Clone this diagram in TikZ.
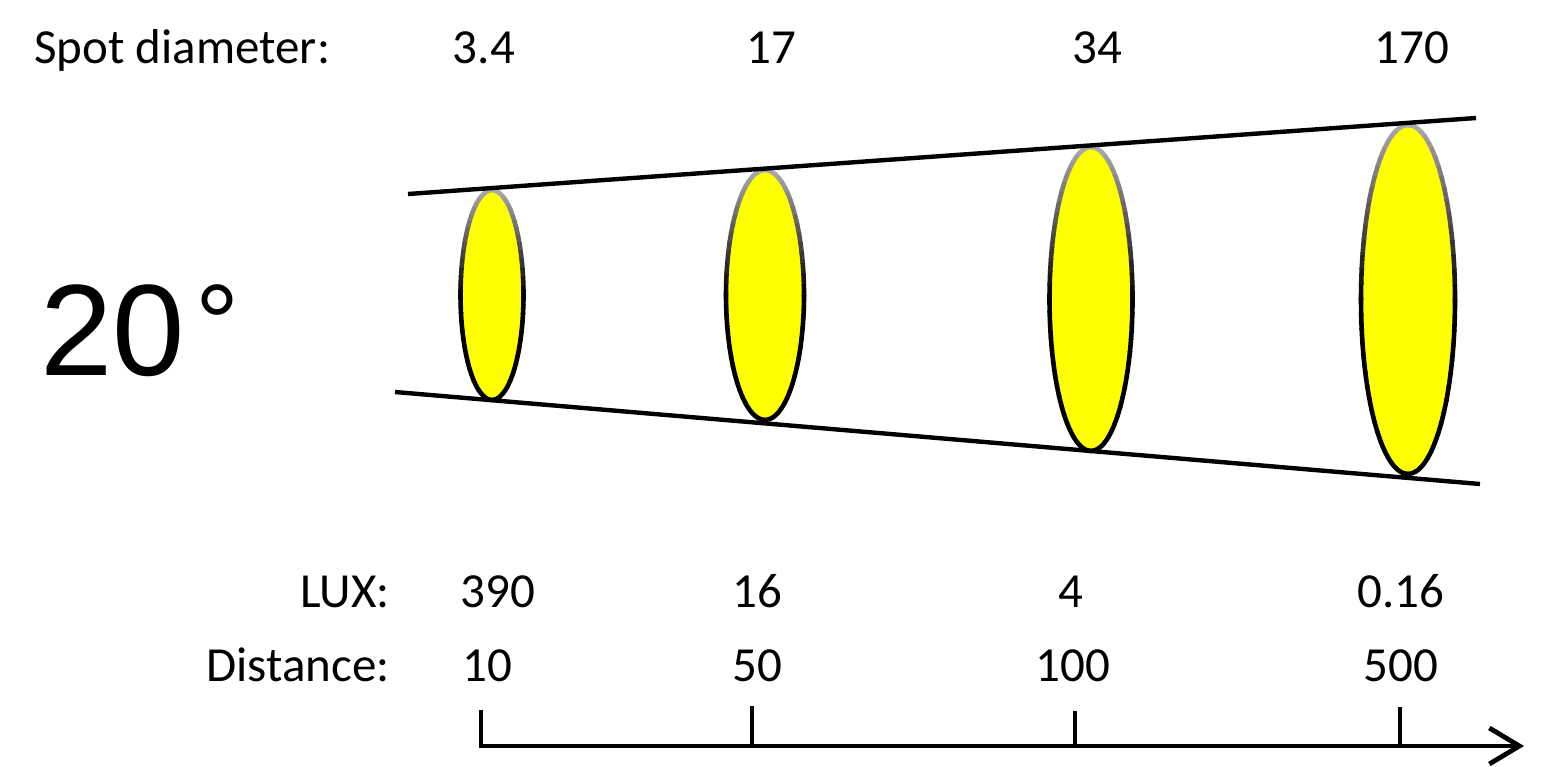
\documentclass[tikz,border=0pt]{standalone}
\usepackage{fontspec}
\setmainfont{Carlito}
\newfontfamily\arialfont{Liberation Sans}
\usetikzlibrary{calc,arrows.meta}
\definecolor{spotyellow}{RGB}{255,255,0}
\begin{document}
\begin{tikzpicture}[x=0.5pt,y=-0.5pt,
  lbl/.style={font=\fontsize{24.5}{30}\selectfont, inner sep=0pt, anchor=base},
  lblr/.style={lbl, anchor=base east},
  lbll/.style={lbl, anchor=base west},
  cone/.style={line width=2.2pt, black},
  axis/.style={line width=2.4pt, black},
]
\useasboundingbox (0,0) rectangle (1545,766);

% spots
\foreach \cx/\cy/\rx/\ry in {492/295/31.5/105, 765/295/39/125, 1091/299/41.5/152, 1408/299.5/47/174.5} {
  \fill[spotyellow] (\cx,\cy) ellipse[x radius=\rx, y radius=\ry];
  \foreach \t in {0,5,...,355} {
    \pgfmathsetmacro\g{max(0,-sin(\t+2.5))}
    \pgfmathtruncatemacro\p{100-67*\g}
    \draw[line width=2.3pt, black!\p] ($(\cx,\cy)+({\rx*cos(\t)},{\ry*sin(\t)})$) arc[start angle=\t, delta angle=5.6, x radius=\rx, y radius=\ry];
  }
}

% cone lines
\coordinate (tl) at (408,194);
\coordinate (tr) at (1476,118);
\coordinate (bl) at (395,392);
\coordinate (br) at (1480,484);
\draw[cone] (tl) -- (tr);
\draw[cone] (bl) -- (br);

% texts
\node[lbll] (sd) at (34,63) {Spot diameter:};
\node[lbl] (s1) at (484,63) {3.4};
\node[lbl] (s2) at (771,63) {17};
\node[lbl] (s3) at (1097,63) {34};
\node[lbl] (s4) at (1412,63) {170};

\node[lblr] (lux) at (390,607) {LUX:};
\node[lbl] (l1) at (498,607) {390};
\node[lbl] (l2) at (757,607) {16};
\node[lbl] (l3) at (1071,607) {4};
\node[lbl] (l4) at (1401,607) {0.16};

\node[lblr] (dist) at (390,681) {Distance:};
\node[lbl] (d1) at (487,681) {10};
\node[lbl] (d2) at (757,681) {50};
\node[lbl] (d3) at (1073,681) {100};
\node[lbl] (d4) at (1401,681) {500};

\node[inner sep=0pt, anchor=base west, font=\arialfont\fontsize{65}{70}\selectfont] (ang) at (40,375) {20\kern5pt\raisebox{7pt}{\fontsize{55}{60}\selectfont °}};

% axis
\coordinate (a0) at (481,710);
\coordinate (a1) at (481,746);
\coordinate (a2) at (1524,746);
\draw[axis, line join=miter, -{Straight Barb[length=15pt,width=18pt,line width=2.4pt]}] (a0) -- (a1) -- (a2);
\coordinate (t2a) at (752,706); \coordinate (t2b) at (752,745);
\coordinate (t3a) at (1075,711); \coordinate (t3b) at (1075,745);
\coordinate (t4a) at (1400,707); \coordinate (t4b) at (1400,745);
\draw[axis] (t2a) -- (t2b);
\draw[axis] (t3a) -- (t3b);
\draw[axis] (t4a) -- (t4b);
\end{tikzpicture}
\end{document}
